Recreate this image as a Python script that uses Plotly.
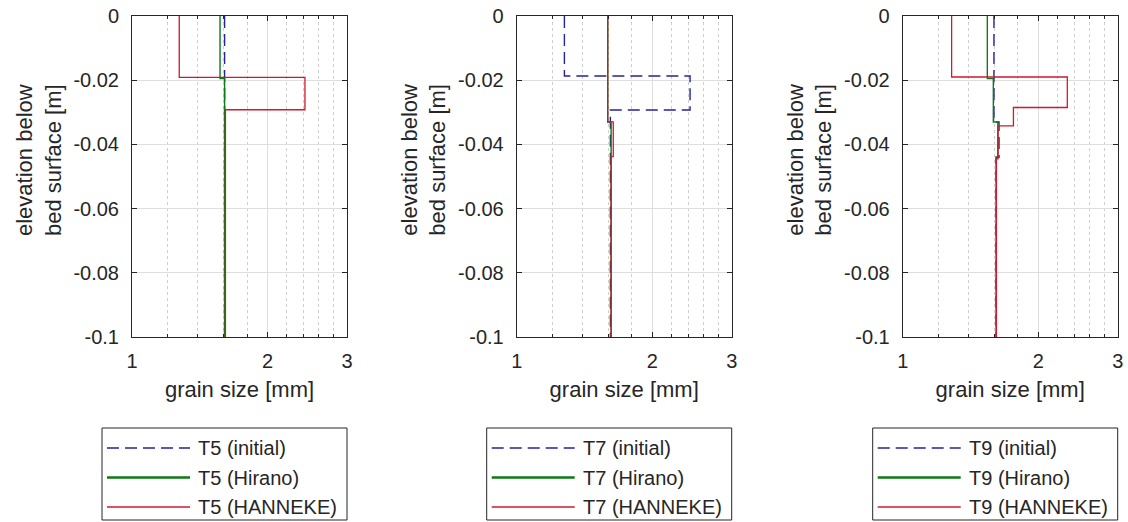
import plotly.graph_objects as go

W, H = 1128, 522

# ---- data -------------------------------------------------------------
bed_bottom = -0.1  # m below bed surface

tests = ["T5", "T7", "T9"]
runs = ["initial", "Hirano", "HANNEKE"]

# layer interfaces [m] and grain size of each layer [mm], top to bottom
t5_initial_z = []
t5_initial_d = [1.605]
t5_hirano_z = [-0.0195]
t5_hirano_d = [1.568, 1.605]
t5_hanneke_z = [-0.0191, -0.0292]
t5_hanneke_d = [1.273, 2.42, 1.612]

t7_initial_z = [-0.0187, -0.0293]
t7_initial_d = [1.276, 2.425, 1.614]
t7_hirano_z = [-0.033]
t7_hirano_d = [1.592, 1.62]
t7_hanneke_z = [-0.033, -0.0438]
t7_hanneke_d = [1.592, 1.638, 1.62]

t9_initial_z = [-0.033, -0.044]
t9_initial_d = [1.594, 1.636, 1.612]
t9_hirano_z = [-0.0195, -0.033, -0.044]
t9_hirano_d = [1.541, 1.589, 1.626, 1.612]
t9_hanneke_z = [-0.019, -0.0285, -0.0342, -0.0445]
t9_hanneke_d = [1.284, 2.319, 1.761, 1.628, 1.614]

profiles = {
    "T5": [(t5_initial_z, t5_initial_d), (t5_hirano_z, t5_hirano_d), (t5_hanneke_z, t5_hanneke_d)],
    "T7": [(t7_initial_z, t7_initial_d), (t7_hirano_z, t7_hirano_d), (t7_hanneke_z, t7_hanneke_d)],
    "T9": [(t9_initial_z, t9_initial_d), (t9_hirano_z, t9_hirano_d), (t9_hanneke_z, t9_hanneke_d)],
}

size_ticks = [1, 2, 3]
size_labels = ["1", "2", "3"]
size_minor = [1.2, 1.4, 1.6, 1.8, 2.2, 2.4, 2.6, 2.8]
depth_ticks = [0, -0.02, -0.04, -0.06, -0.08, -0.1]
depth_labels = ["0", "-0.02", "-0.04", "-0.06", "-0.08", "-0.1"]

# ---- styling ------------------------------------------------------------
FONT = "Liberation Sans, Arial, sans-serif"
TXT = "#262626"
styles = [
    dict(color="#23239c", width=1.4, dash="12px,6px"),   # initial
    dict(color="#0c7a16", width=1.4, dash="solid"),      # Hirano
    dict(color="#d0182f", width=1.3, dash="solid"),      # HANNEKE
]
legend_widths = [1.5, 2.4, 1.3]

# axes boxes in pixels (left, right), shared top/bottom
ax_left = [132.0, 516.7, 902.7]
ax_w = 215.0
ax_top, ax_bot = 16.0, 337.0


def px(x):
    return x / W


def py(y):
    return 1 - y / H


def step_profile(z, d):
    tops = [0.0] + list(z)
    bots = list(z) + [bed_bottom]
    xs, ys = [], []
    for dk, t, b in zip(d, tops, bots):
        xs += [dk, dk]
        ys += [t, b]
    return xs, ys


fig = go.Figure()
shapes = []
annotations = []

for i, test in enumerate(tests):
    n = "" if i == 0 else str(i + 1)
    for (z, d), run, st in zip(profiles[test], runs, styles):
        xs, ys = step_profile(z, d)
        fig.add_trace(go.Scatter(
            x=xs, y=ys, mode="lines", name=f"{test} ({run})",
            line=st, showlegend=False,
            xaxis="x" + n, yaxis="y" + n,
        ))

    L = ax_left[i]
    R = L + ax_w
    axis_common = dict(
        automargin=False,
        showline=True, linecolor=TXT, linewidth=1, mirror="ticks",
        ticks="inside", ticklen=5, tickcolor=TXT,
        tickfont=dict(family=FONT, size=20, color=TXT),
        showgrid=True, gridcolor="#dedede", gridwidth=1,
        zeroline=False,
    )
    fig.update_layout(**{
        "xaxis" + n: dict(
            axis_common,
            type="log", range=[0, 0.47712125472],
            domain=[px(L), px(R)], anchor="y" + n,
            tickmode="array", tickvals=size_ticks, ticktext=size_labels,
            ticklabelstandoff=6,
            minor=dict(tickmode="array", tickvals=size_minor, ticks="inside",
                       ticklen=3, tickcolor=TXT, showgrid=True,
                       gridcolor="#cfcfcf", griddash="dot", gridwidth=1),
            title=dict(text="grain size [mm]", standoff=10,
                       font=dict(family=FONT, size=22, color=TXT)),
        ),
        "yaxis" + n: dict(
            axis_common,
            range=[bed_bottom, 0],
            domain=[py(ax_bot), py(ax_top)], anchor="x" + n,
            tickmode="array", tickvals=depth_ticks, ticktext=depth_labels,
            ticklabelstandoff=8,
        ),
    })

    # y-axis label (two lines, rotated)
    annotations.append(dict(
        text="elevation below<br>bed surface [m]", textangle=-90,
        xref="paper", yref="paper", x=px(L - 93), y=py(160),
        xanchor="center", yanchor="middle", showarrow=False,
        font=dict(family=FONT, size=22, color=TXT),
    ))

    # legend box under each panel
    bx0, bx1 = R - 245, R
    by0, by1 = 428, 520
    shapes.append(dict(type="rect", xref="paper", yref="paper",
                       x0=px(bx0), x1=px(bx1), y0=py(by1), y1=py(by0),
                       line=dict(color=TXT, width=1), fillcolor="white"))
    for k, (run, st, lw) in enumerate(zip(runs, styles, legend_widths)):
        yy = 448 + 29.5 * k
        shapes.append(dict(type="line", xref="paper", yref="paper",
                           x0=px(bx0 + 5), x1=px(bx0 + 88), y0=py(yy), y1=py(yy),
                           line=dict(color=st["color"], width=lw, dash=st["dash"])))
        annotations.append(dict(
            text=f"{test} ({run})", xref="paper", yref="paper",
            x=px(bx0 + 94), y=py(yy), xanchor="left", yanchor="middle",
            showarrow=False, font=dict(family=FONT, size=20, color=TXT),
        ))

fig.update_layout(
    width=W, height=H,
    margin=dict(l=0, r=0, t=0, b=0, autoexpand=False),
    paper_bgcolor="white", plot_bgcolor="white",
    showlegend=False,
    shapes=shapes, annotations=annotations,
)

fig.write_html("out.html")
